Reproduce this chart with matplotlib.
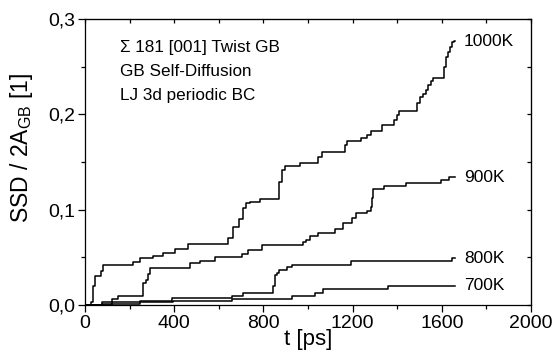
import matplotlib
matplotlib.use("Agg")
import matplotlib.pyplot as plt
from matplotlib.ticker import MultipleLocator, FuncFormatter

plt.rcParams['font.family'] = ['Liberation Sans', 'DejaVu Sans']
plt.rcParams['mathtext.fontset'] = 'custom'
plt.rcParams['mathtext.rm'] = 'Liberation Sans'
plt.rcParams['mathtext.it'] = 'Liberation Sans:italic'

# ---- data (t in ps, SSD/2A_GB) ----
t_1000 = [0, 25, 35, 45, 72, 80, 215, 247, 306, 350, 403, 462, 642, 662, 690, 710, 720,
          740, 785, 871, 882, 897, 964, 1046, 1061, 1166, 1176, 1238, 1263, 1283, 1330,
          1387, 1398, 1408, 1490, 1502, 1517, 1529, 1540, 1552, 1562, 1611, 1619, 1626,
          1637, 1644, 1655, 1659]
v_1000 = [0.0, 0.003, 0.020, 0.030, 0.036, 0.042, 0.045, 0.049, 0.051, 0.055, 0.059, 0.064,
          0.070, 0.0815, 0.090, 0.1015, 0.107, 0.108, 0.111, 0.129, 0.142, 0.146, 0.149,
          0.155, 0.161, 0.168, 0.1724, 0.175, 0.178, 0.1826, 0.1885, 0.194, 0.199, 0.2036,
          0.212, 0.218, 0.221, 0.2256, 0.231, 0.235, 0.238, 0.250, 0.2606, 0.266, 0.271,
          0.276, 0.277, 0.277]

t_900 = [0, 75, 120, 150, 262, 272, 282, 291, 471, 516, 583, 703, 732, 792, 979, 990, 1009,
         1046, 1121, 1155, 1196, 1215, 1263, 1281, 1286, 1290, 1342, 1439, 1596, 1634, 1659]
v_900 = [0.0, 0.0035, 0.006, 0.0094, 0.023, 0.026, 0.033, 0.0385, 0.0437, 0.0465, 0.050,
         0.0535, 0.0577, 0.063, 0.066, 0.068, 0.0724, 0.0759, 0.0794, 0.0857, 0.0916,
         0.0962, 0.099, 0.1025, 0.112, 0.1214, 0.125, 0.1283, 0.131, 0.134, 0.134]

t_800 = [0, 75, 120, 245, 388, 658, 710, 845, 852, 859, 870, 904, 927, 1191, 1644, 1659]
v_800 = [0.0, 0.001, 0.003, 0.0045, 0.007, 0.0094, 0.0122, 0.020, 0.0315, 0.034, 0.0367,
         0.040, 0.042, 0.046, 0.049, 0.049]

t_700 = [0, 120, 245, 395, 658, 927, 1031, 1069, 1360, 1659]
v_700 = [0.0, 0.0015, 0.003, 0.004, 0.0063, 0.0098, 0.0127, 0.0165, 0.020, 0.020]

series_labels = ['1000K', '900K', '800K', '700K']
annotation = ['\u03a3 181 [001] Twist GB', 'GB Self-Diffusion', 'LJ 3d periodic BC']

fig = plt.figure(figsize=(5.59, 3.61), dpi=100)
ax = fig.add_axes([0.152, 0.155, 0.798, 0.792])

series = [(t_1000, v_1000), (t_900, v_900), (t_800, v_800), (t_700, v_700)]
for (t, v), lab in zip(series, series_labels):
    ax.plot(t, v, drawstyle='steps-post', color='black', lw=1.1)
    ax.text(t[-1] + 40, v[-1], lab, fontsize=12.5, va='center', ha='left')

ax.set_xlim(0, 2000)
ax.set_ylim(0, 0.3)
ax.xaxis.set_major_locator(MultipleLocator(400))
ax.xaxis.set_minor_locator(MultipleLocator(200))
ax.yaxis.set_major_locator(MultipleLocator(0.1))
ax.yaxis.set_minor_locator(MultipleLocator(0.05))
ax.yaxis.set_major_formatter(FuncFormatter(lambda y, p: f"{y:.1f}".replace('.', ',')))

ax.tick_params(which='major', direction='out', length=5, width=0.9, labelsize=14, pad=2,
               top=False, right=False)
ax.tick_params(which='minor', direction='out', length=3, width=0.9, top=False, right=False)
# inward ticks on top/right
axt = ax.secondary_xaxis('top')
axt.xaxis.set_major_locator(MultipleLocator(200))
axt.tick_params(direction='in', length=3, width=0.9, labeltop=False)
axr = ax.secondary_yaxis('right')
axr.yaxis.set_major_locator(MultipleLocator(0.05))
axr.tick_params(direction='in', length=3, width=0.9, labelright=False)
for s in ax.spines.values():
    s.set_linewidth(0.9)

ax.set_xlabel('t [ps]', fontsize=16, labelpad=-2)
ax.set_ylabel(r'SSD / 2A$_{\mathrm{GB}}$ [1]', fontsize=16.5)
ax.yaxis.set_label_coords(-0.112, 0.55)

for i, line in enumerate(annotation):
    ax.text(0.078, 0.90 - i * 0.084, line, transform=ax.transAxes, fontsize=12.3,
            va='center', ha='left')

fig.savefig('out.png', dpi=100)
